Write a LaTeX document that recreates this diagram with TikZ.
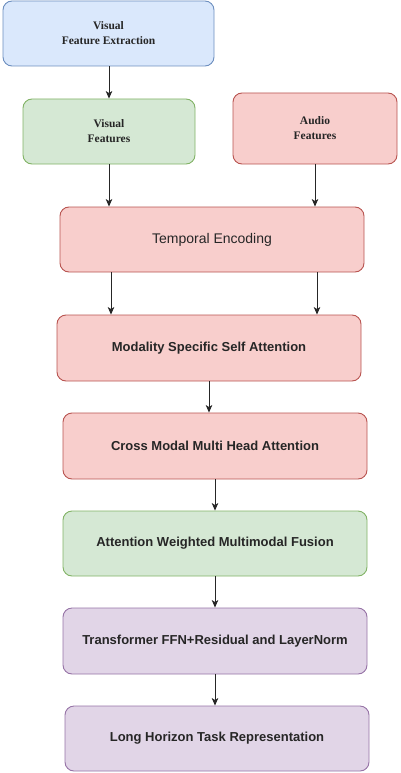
\documentclass[tikz,border=0pt]{standalone}
\usepackage{fontspec}
\setmainfont{Liberation Serif}
\setsansfont{Liberation Sans}
\usepackage{xcolor}
\usepackage{tikz}
\usetikzlibrary{arrows.meta}

\definecolor{blufill}{HTML}{DAE8FC}
\definecolor{bluline}{HTML}{6C8EBF}
\definecolor{grnfill}{HTML}{D5E8D4}
\definecolor{grnline}{HTML}{82B366}
\definecolor{redfill}{HTML}{F8CECC}
\definecolor{redline}{HTML}{B85450}
\definecolor{purfill}{HTML}{E1D5E7}
\definecolor{purline}{HTML}{9673A6}
\definecolor{txt}{HTML}{262626}

\begin{document}
\begin{tikzpicture}[x=1pt, y=-1pt,
		box/.style={rounded corners=9pt, line width=0.9pt, text=txt, align=center, inner sep=0pt},
		serifbox/.style={box, font=\fontsize{11.5}{15}\selectfont\rmfamily\bfseries},
		sansbox/.style={box, font=\fontsize{13}{15}\selectfont\sffamily\bfseries},
		blubox/.style={fill=blufill, draw=bluline},
		grnbox/.style={fill=grnfill, draw=grnline},
		redbox/.style={fill=redfill, draw=redline},
		purbox/.style={fill=purfill, draw=purline},
		flow/.style={-{Stealth[length=7.5pt,width=6.5pt,inset=2pt]}, line width=0.8pt, draw=black!85}]
		\useasboundingbox (0,0) rectangle (400,773);
		
		% top inputs
		\node[serifbox, blubox, minimum width=211pt, minimum height=65pt] (vfe) at (108.5,33.5) {Visual\\Feature Extraction};
		\node[serifbox, grnbox, minimum width=172pt, minimum height=65pt] (visfeat) at (109,131.5) {Visual\\Features};
		\node[serifbox, redbox, minimum width=164pt, minimum height=71pt] (audfeat) at (315,128.5) {Audio\\Features};
		
		% main stack
		\node[box, redbox, minimum width=304pt, minimum height=65pt, font=\fontsize{14}{16}\selectfont\sffamily] (tempenc) at (212,239.5) {Temporal Encoding};
		\node[sansbox, redbox, minimum width=304pt, minimum height=66pt] (msatt) at (209,348) {Modality Specific Self Attention};
		\node[sansbox, redbox, minimum width=304pt, minimum height=66pt] (cmatt) at (215,446) {Cross Modal Multi Head Attention};
		\node[sansbox, grnbox, minimum width=304pt, minimum height=65pt] (fusion) at (215,543.5) {Attention Weighted Multimodal Fusion};
		\node[sansbox, purbox, minimum width=304pt, minimum height=66pt] (ffn) at (215,641) {Transformer FFN+Residual and LayerNorm};
		\node[sansbox, purbox, minimum width=304pt, minimum height=65pt] (lhtr) at (217,738.5) {Long Horizon Task Representation};
		
		% arrows
		\draw[flow] (vfe.south -| visfeat) -- (visfeat.north);
		\draw[flow] (visfeat.south) -- (visfeat.south |- tempenc.north);
		\draw[flow] (audfeat.south) -- (audfeat.south |- tempenc.north);
		\draw[flow] ([xshift=2pt]tempenc.south -| visfeat) -- ([xshift=2pt]msatt.north -| visfeat);
		\draw[flow] ([xshift=2pt]tempenc.south -| audfeat) -- ([xshift=2pt]msatt.north -| audfeat);
		\draw[flow] (msatt.south) -- (msatt.south |- cmatt.north);
		\draw[flow] (cmatt.south) -- (fusion.north);
		\draw[flow] (fusion.south) -- (ffn.north);
		\draw[flow] (ffn.south) -- (ffn.south |- lhtr.north);
	\end{tikzpicture}
\end{document}
